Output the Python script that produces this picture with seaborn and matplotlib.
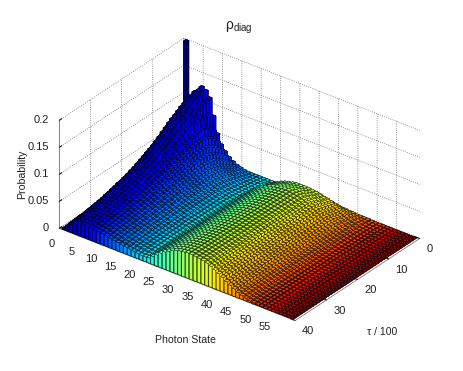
import matplotlib
matplotlib.use('Agg')

import matplotlib.pyplot as plt
import numpy as np
import seaborn as sns

# bar heights in thousandths of probability
# photon states 1-22, one list per tau step (0 to 39)
low_states = [
    [200, 84, 102, 116, 126, 122, 111, 80, 50, 33, 23, 15, 10, 6, 4, 2, 1, 1, 1, 1, 1, 1],
    [68, 90, 106, 118, 124, 120, 110, 86, 60, 42, 30, 21, 14, 9, 6, 4, 3, 2, 2, 2, 2, 2],
    [64, 88, 104, 115, 120, 118, 109, 90, 68, 50, 36, 27, 19, 13, 9, 7, 5, 4, 3, 3, 3, 3],
    [60, 86, 102, 112, 116, 115, 107, 92, 74, 57, 43, 32, 24, 17, 12, 9, 7, 6, 5, 4, 4, 4],
    [56, 83, 99, 108, 112, 111, 105, 92, 77, 61, 48, 37, 28, 21, 16, 12, 9, 8, 6, 5, 5, 5],
    [52, 80, 95, 104, 108, 107, 102, 91, 78, 64, 52, 41, 32, 25, 19, 15, 12, 10, 8, 7, 6, 6],
    [48, 76, 91, 100, 103, 102, 98, 89, 78, 65, 54, 44, 36, 29, 23, 18, 14, 12, 10, 8, 7, 7],
    [44, 73, 88, 96, 99, 98, 95, 87, 76, 65, 55, 46, 38, 31, 25, 20, 16, 13, 11, 9, 8, 8],
    [40, 68, 84, 92, 94, 94, 90, 84, 74, 65, 55, 47, 39, 33, 27, 22, 18, 15, 12, 10, 9, 9],
    [37, 64, 79, 87, 89, 89, 86, 80, 72, 64, 55, 47, 40, 34, 28, 23, 19, 16, 13, 11, 10, 10],
    [34, 60, 75, 83, 85, 85, 82, 77, 70, 62, 54, 47, 40, 34, 29, 24, 20, 17, 14, 12, 11, 10],
    [31, 56, 70, 78, 80, 81, 78, 74, 68, 60, 53, 46, 40, 34, 29, 25, 21, 18, 15, 13, 12, 11],
    [28, 52, 66, 74, 76, 77, 75, 71, 65, 58, 51, 45, 39, 34, 29, 25, 21, 18, 15, 13, 12, 11],
    [26, 49, 62, 70, 72, 73, 71, 68, 63, 56, 50, 44, 38, 33, 29, 25, 21, 18, 16, 14, 12, 12],
    [24, 46, 59, 66, 69, 70, 68, 65, 60, 55, 49, 43, 38, 33, 28, 25, 21, 18, 16, 14, 13, 12],
    [22, 43, 56, 63, 66, 67, 66, 62, 58, 53, 47, 42, 37, 32, 28, 24, 21, 18, 16, 14, 13, 12],
    [20, 40, 53, 60, 63, 64, 63, 60, 56, 51, 46, 41, 36, 32, 28, 24, 21, 18, 16, 14, 13, 12],
    [18, 38, 50, 57, 60, 61, 60, 58, 54, 49, 45, 40, 35, 31, 27, 24, 21, 18, 16, 14, 13, 12],
    [17, 35, 47, 54, 57, 58, 57, 55, 52, 48, 43, 39, 35, 31, 27, 24, 21, 18, 16, 14, 13, 12],
    [15, 33, 44, 51, 54, 55, 55, 53, 50, 46, 42, 37, 34, 30, 27, 23, 20, 18, 16, 14, 13, 12],
    [14, 31, 42, 49, 52, 53, 53, 51, 48, 44, 40, 36, 33, 29, 26, 23, 20, 18, 16, 14, 13, 12],
    [13, 29, 39, 46, 49, 50, 50, 49, 46, 43, 39, 35, 32, 29, 26, 22, 20, 18, 16, 14, 13, 12],
    [12, 27, 37, 44, 47, 48, 48, 47, 44, 41, 38, 34, 31, 28, 25, 22, 20, 18, 16, 14, 13, 12],
    [11, 26, 35, 42, 45, 46, 46, 45, 43, 40, 36, 33, 30, 27, 25, 22, 19, 17, 15, 14, 13, 12],
    [10, 24, 34, 40, 43, 44, 44, 43, 41, 38, 35, 32, 29, 26, 24, 21, 19, 17, 15, 14, 13, 12],
    [9, 23, 32, 38, 41, 42, 42, 41, 40, 37, 34, 31, 28, 26, 23, 21, 19, 17, 15, 14, 13, 12],
    [8, 21, 30, 36, 39, 40, 40, 39, 38, 36, 33, 30, 27, 25, 23, 20, 18, 17, 15, 13, 12, 12],
    [8, 20, 28, 34, 37, 38, 38, 38, 36, 34, 32, 29, 27, 24, 22, 20, 18, 16, 15, 13, 12, 11],
    [7, 18, 27, 33, 36, 37, 37, 36, 35, 33, 31, 28, 26, 24, 21, 19, 18, 16, 14, 13, 12, 11],
    [6, 17, 25, 31, 34, 35, 35, 35, 34, 32, 30, 27, 25, 23, 21, 19, 17, 16, 14, 13, 12, 11],
    [6, 16, 24, 30, 33, 34, 34, 34, 33, 31, 29, 27, 25, 22, 20, 19, 17, 15, 14, 13, 12, 11],
    [5, 15, 23, 28, 31, 32, 32, 32, 31, 29, 28, 26, 24, 22, 20, 18, 17, 15, 14, 12, 11, 11],
    [5, 14, 22, 27, 30, 31, 31, 31, 30, 28, 27, 25, 23, 21, 19, 18, 16, 15, 13, 12, 11, 11],
    [4, 13, 21, 26, 29, 30, 30, 30, 29, 27, 26, 24, 22, 20, 19, 17, 16, 14, 13, 12, 11, 10],
    [4, 12, 20, 25, 28, 29, 29, 29, 28, 26, 25, 23, 22, 20, 18, 17, 15, 14, 13, 12, 11, 10],
    [4, 12, 19, 24, 27, 28, 28, 28, 27, 26, 25, 23, 21, 19, 18, 16, 15, 14, 12, 11, 10, 10],
    [3, 11, 18, 23, 26, 27, 27, 27, 26, 25, 24, 22, 21, 19, 18, 16, 15, 13, 12, 11, 10, 10],
    [3, 10, 17, 22, 25, 26, 26, 26, 25, 24, 23, 21, 20, 18, 17, 15, 14, 13, 12, 11, 10, 9],
    [2, 10, 16, 21, 24, 25, 25, 25, 24, 23, 22, 20, 19, 18, 16, 15, 14, 12, 11, 10, 9, 9],
    [2, 9, 15, 20, 23, 24, 24, 24, 23, 22, 21, 20, 18, 17, 16, 14, 13, 12, 11, 10, 9, 9],
]

# photon states 23-60, the hump still growing over the first tau steps
high_states_early = [
    [1, 1, 2, 2, 3, 4, 4, 4, 5, 5, 5, 5, 5, 5, 5, 4, 4, 4, 3, 3, 2, 2, 1, 1, 1, 1, 0, 0, 0, 0, 0, 0, 0, 0, 0, 0, 0, 0],
    [3, 4, 5, 7, 9, 11, 12, 13, 14, 15, 15, 15, 15, 15, 14, 13, 12, 11, 10, 8, 7, 5, 4, 3, 2, 2, 1, 1, 0, 0, 0, 0, 0, 0, 0, 0, 0, 0],
    [5, 7, 9, 12, 15, 18, 20, 22, 24, 25, 25, 25, 25, 25, 24, 22, 21, 19, 17, 14, 12, 9, 7, 5, 4, 3, 2, 1, 1, 0, 0, 0, 0, 0, 0, 0, 0, 0],
    [6, 9, 13, 17, 21, 25, 28, 30, 32, 33, 33, 33, 33, 32, 31, 29, 27, 25, 22, 19, 16, 13, 10, 7, 5, 4, 2, 1, 1, 1, 0, 0, 0, 0, 0, 0, 0, 0],
    [6, 10, 14, 18, 23, 27, 30, 32, 34, 35, 35, 35, 35, 34, 33, 31, 29, 27, 24, 20, 17, 13, 10, 7, 5, 4, 2, 2, 1, 1, 0, 0, 0, 0, 0, 0, 0, 0],
    [7, 11, 15, 20, 25, 29, 32, 35, 37, 38, 38, 38, 38, 37, 36, 34, 32, 29, 26, 22, 18, 14, 11, 8, 6, 4, 2, 2, 1, 1, 0, 0, 0, 0, 0, 0, 0, 0],
    [8, 12, 16, 22, 27, 31, 35, 38, 40, 42, 42, 42, 42, 41, 39, 37, 35, 32, 28, 24, 20, 16, 12, 9, 6, 5, 3, 2, 1, 1, 0, 0, 0, 0, 0, 0, 0, 0],
    [9, 12, 17, 23, 29, 33, 37, 40, 43, 44, 45, 45, 44, 43, 42, 40, 37, 34, 30, 26, 21, 17, 13, 10, 7, 5, 3, 2, 1, 1, 0, 0, 0, 0, 0, 0, 0, 0],
]

# photon states 23-60 once the hump has settled (tau step 8 onwards)
high_states_steady = [10, 15, 21, 27, 32, 36, 40, 43, 45, 46, 47, 47, 46, 45, 44, 42, 39, 35, 31, 27, 22, 18, 14, 10, 7, 5, 3, 2, 1, 1, 0, 0, 0, 0, 0, 0, 0, 0]

state_ticks = [0, 5, 10, 15, 20, 25, 30, 35, 40, 45, 50, 55]
tau_ticks = [0, 10, 20, 30, 40]
prob_ticks = [0, 0.05, 0.1, 0.15, 0.2]
prob_labels = ['0', '0.05', '0.1', '0.15', '0.2']

sns.set_style('white')
plt.rcParams['font.family'] = ['Liberation Sans', 'DejaVu Sans']
plt.rcParams['mathtext.fontset'] = 'custom'
plt.rcParams['mathtext.rm'] = 'Liberation Sans'
plt.rcParams['mathtext.default'] = 'rm'

rows = []
for i, low in enumerate(low_states):
    high = high_states_early[i] if i < len(high_states_early) else high_states_steady
    rows.append(low + high)
heights = np.array(rows) / 1000

n_tau, n_state = heights.shape
# seaborn refuses the name 'jet', so take it from matplotlib and wrap it
palette = sns.color_palette(plt.get_cmap('jet')(np.linspace(0, 1, n_state))[:, :3])

tau_pos, state_pos = np.meshgrid(np.arange(n_tau) + 0.5, np.arange(n_state) + 1, indexing='ij')
bar_colors = [palette[j] for i in range(n_tau) for j in range(n_state)]

fig = plt.figure(figsize=(4.63, 3.71), dpi=100)
ax = fig.add_axes([0.0065, 0.003, 1, 1], projection='3d')
ax.set_proj_type('ortho')
ax.view_init(elev=30.5, azim=37.6)
ax.set_box_aspect((205, 299, 126), zoom=1.0)
ax.patch.set_alpha(0)

ax.bar3d(tau_pos.ravel() - 0.4, state_pos.ravel() - 0.4, 0, 0.8, 0.8, heights.ravel(),
         color=bar_colors, edgecolor='black', linewidth=0.28, shade=False)

ax.set_xlim(0, 40, view_margin=0)
ax.set_ylim(0, 61, view_margin=0)
ax.set_zlim(0, 0.2, view_margin=0)

ax.set_xticks(tau_ticks)
ax.set_xticklabels(tau_ticks, ha='left')
ax.set_yticks(state_ticks)
ax.set_zticks(prob_ticks)
ax.set_zticklabels(prob_labels, ha='right', va='center')
ax.tick_params(labelsize=8, colors='#222222')
ax.tick_params(axis='x', pad=-4)
ax.tick_params(axis='y', pad=0)
ax.tick_params(axis='z', pad=-4)

for axis in (ax.xaxis, ax.yaxis, ax.zaxis):
    axis.set_pane_color((1, 1, 1, 0))
    axis.pane.set_edgecolor((1, 1, 1, 0))
    axis.line.set_color('#777777')
    axis.line.set_linewidth(0.6)
    axis._axinfo['grid'].update(color='#777777', linestyle=':', linewidth=0.6)
    axis._axinfo['tick'].update(inward_factor=0, outward_factor=0.25)

ax.zaxis.set_ticks_position('lower')

fig.text(239 / 463, 1 - 28 / 371, r'$\rho_{diag}$', fontsize=10, ha='center', va='center', color='#222222')
fig.text(22 / 463, 1 - 174 / 371, 'Probability', fontsize=7.6, rotation=90, ha='center', va='center', color='#222222')
fig.text(185 / 463, 1 - 340 / 371, 'Photon State', fontsize=7.6, ha='center', va='center', color='#222222')
fig.text(382 / 463, 1 - 332 / 371, 'τ / 100', fontsize=7.6, ha='center', va='center', color='#222222')

fig.savefig('out.png', dpi=100)
